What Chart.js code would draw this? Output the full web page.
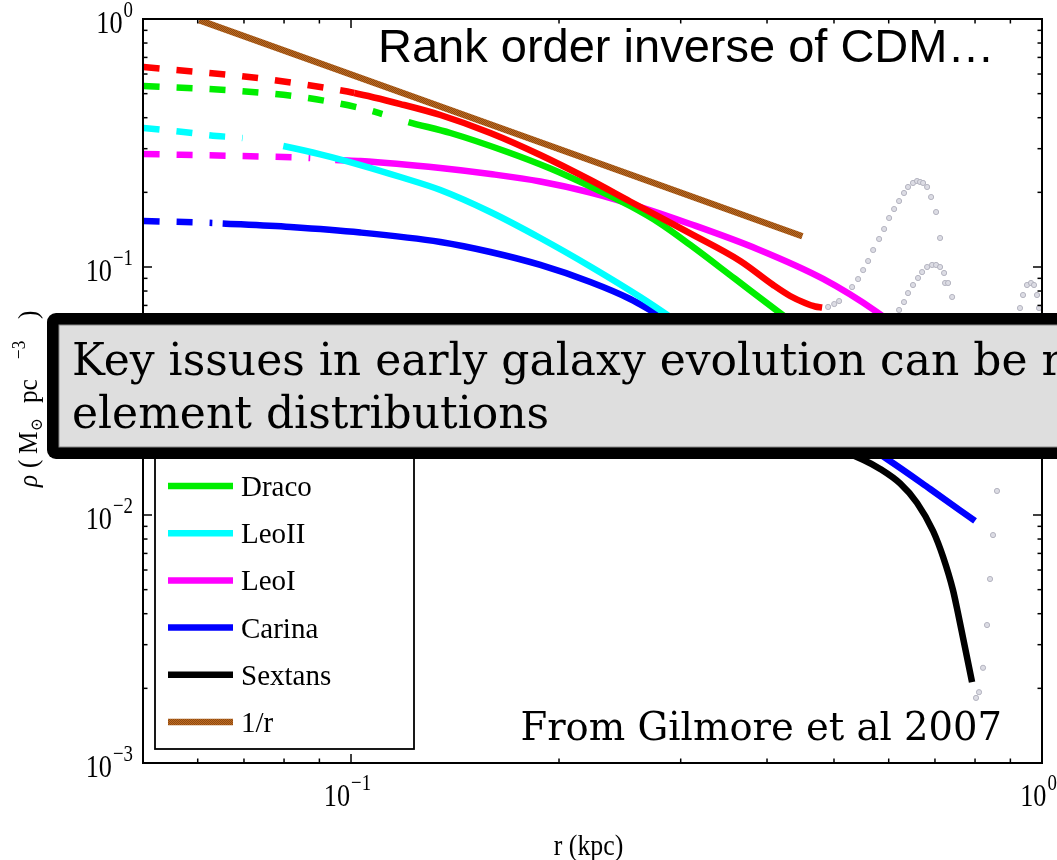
<!DOCTYPE html>
<html>
<head>
<meta charset="utf-8">
<title>dSph density profiles</title>
<script src="https://cdn.jsdelivr.net/npm/chart.js"></script>
<style>
  html, body { margin: 0; padding: 0; background: #fff; }
  canvas { display: block; }
</style>
</head>
<body>
<canvas id="densityChart" width="1057" height="860"></canvas>
<script>
// r in kpc, rho in Msun pc^-3
const umiR   = [0.0501, 0.0557, 0.0692, 0.0865, 0.1011, 0.1179, 0.1347, 0.1591, 0.1879, 0.2220, 0.2535, 0.3097, 0.3658, 0.4083, 0.4320, 0.4541, 0.4695, 0.4806];
const umiRho = [0.640, 0.623, 0.589, 0.542, 0.503, 0.4541, 0.4101, 0.3470, 0.2829, 0.2243, 0.1837, 0.1365, 0.1057, 0.0846, 0.0764, 0.0716, 0.0693, 0.0687];

const dracoR   = [0.0501, 0.0692, 0.0865, 0.1032, 0.1110, 0.1211, 0.1393, 0.1684, 0.1943, 0.2220, 0.2535, 0.2802, 0.3097, 0.3597, 0.4179, 0.5103];
const dracoRho = [0.537, 0.5125, 0.4803, 0.4376, 0.4139, 0.3843, 0.3470, 0.2909, 0.2495, 0.2111, 0.1762, 0.1498, 0.1227, 0.0895, 0.0652, 0.0430];

const leo2R   = [0.0501, 0.0572, 0.0639, 0.0697, 0.0798, 0.0903, 0.1032, 0.1179, 0.1347, 0.1591, 0.1879, 0.2220, 0.2622, 0.2897, 0.3201];
const leo2Rho = [0.3635, 0.3502, 0.3375, 0.3312, 0.3075, 0.2847, 0.2578, 0.2306, 0.2044, 0.1667, 0.1309, 0.1005, 0.0757, 0.0629, 0.0517];

const leo1R   = [0.0501, 0.0692, 0.0873, 0.0949, 0.1032, 0.1347, 0.1591, 0.1879, 0.2220, 0.2622, 0.3097, 0.3871, 0.4823, 0.5772, 0.6660];
const leo1Rho = [0.2855, 0.2803, 0.2751, 0.2701, 0.2676, 0.2507, 0.2371, 0.2212, 0.1997, 0.1745, 0.1491, 0.1182, 0.0895, 0.0658, 0.0485];

const carinaR   = [0.0501, 0.0630, 0.0652, 0.0817, 0.1032, 0.1347, 0.1591, 0.1879, 0.2220, 0.2535, 0.2897, 0.3201, 0.3782, 0.4467, 0.5987, 0.6888, 0.8000];
const carinaRho = [0.1533, 0.1505, 0.1498, 0.1449, 0.1377, 0.1261, 0.1149, 0.1019, 0.0870, 0.0743, 0.0600, 0.0503, 0.0377, 0.0280, 0.0167, 0.01273, 0.00946];

const sextansR   = [0.0501, 0.1011, 0.1879, 0.3201, 0.4467, 0.5510, 0.5832, 0.6232, 0.6595, 0.6956, 0.7193, 0.7433, 0.7557, 0.7688, 0.7921];
const sextansRho = [0.0485, 0.0434, 0.0357, 0.0265, 0.0210, 0.0167, 0.01533, 0.01340, 0.01118, 0.00862, 0.00677, 0.00498, 0.00403, 0.00319, 0.00212];

const invR   = [0.0603, 0.45];
const invRho = [0.99, 0.133];

// where the dashed inner part stops and the solid part starts
const umiCut     = [0.1011, 0.1011];
const dracoCut   = [0.1110, 0.1211];
const leo2Cut    = [0.0697, 0.0798];
const leo1Cut    = [0.0873, 0.0949];
const carinaCut  = [0.0630, 0.0652];
const sextansCut = [0.0501, 0.0501];

// faint grey dotted tracks
const dotR = [0.4903, 0.5004, 0.5086, 0.5311, 0.5418, 0.5510, 0.5602, 0.5697, 0.5811, 0.5909, 0.6008, 0.6109, 0.6211, 0.6314, 0.6399, 0.6506, 0.6594, 0.6661, 0.6728, 0.6819, 0.6910, 0.7026, 0.7120,
              0.6211, 0.6314, 0.6399, 0.6506, 0.6616, 0.6706, 0.6819, 0.6933, 0.7026, 0.7120, 0.7216, 0.7240, 0.7313, 0.7412,
              0.9293, 0.9387, 0.9512, 0.9640, 0.9737, 0.9835, 0.9901,
              0.8607, 0.8494, 0.8410, 0.8326, 0.8216, 0.8107, 0.8026];
const dotRho = [0.0690, 0.0709, 0.0729, 0.0830, 0.0894, 0.0972, 0.1057, 0.1171, 0.1297, 0.1423, 0.1576, 0.1713, 0.1845, 0.1988, 0.2102, 0.2182, 0.2222, 0.2202, 0.2182, 0.2102, 0.1915, 0.1666, 0.1309,
                0.0671, 0.0722, 0.0785, 0.0846, 0.0903, 0.0954, 0.1000, 0.1019, 0.1019, 0.1000, 0.0946, 0.0862, 0.0862, 0.0757,
                0.0683, 0.0771, 0.0846, 0.0862, 0.0846, 0.0771, 0.0683,
                0.0125, 0.00830, 0.00552, 0.00360, 0.00242, 0.00193, 0.00183];

const xMajor = [0.1, 1];
const xMajorExp = ['\u22121', '0'];
const xMinor = [0.06, 0.07, 0.08, 0.09, 0.2, 0.3, 0.4, 0.5, 0.6, 0.7, 0.8, 0.9];
const yMajor = [0.001, 0.01, 0.1, 1];
const yMajorExp = ['\u22123', '\u22122', '\u22121', '0'];
const yMinor = [2, 3, 4, 5, 6, 7, 8, 9].flatMap(m => [0.001, 0.01, 0.1].map(d => m * d));

const canvas = document.getElementById('densityChart');
const ctx = canvas.getContext('2d');

function brownPattern() {
  const c = document.createElement('canvas');
  c.width = 2; c.height = 2;
  const g = c.getContext('2d');
  g.fillStyle = '#c06a1e'; g.fillRect(0, 0, 2, 2);
  g.fillStyle = '#8c4a14'; g.fillRect(0, 0, 1, 1); g.fillRect(1, 1, 1, 1);
  return ctx.createPattern(c, 'repeat');
}

function pts(rs, rhos) {
  return rs.map((r, i) => ({ x: r, y: rhos[i] }));
}

function profile(label, color, rs, rhos, cut) {
  return {
    label: label,
    data: pts(rs, rhos),
    borderColor: color,
    borderWidth: 6.5,
    borderCapStyle: 'butt',
    pointRadius: 0,
    cubicInterpolationMode: 'monotone',
    segment: {
      borderDash: c => (c.p1.parsed.x <= cut[0] + 1e-9 ? [16, 17] : undefined),
      borderColor: c => (cut[1] > cut[0] && c.p0.parsed.x >= cut[0] - 1e-9 && c.p1.parsed.x <= cut[1] + 1e-9 ? 'rgba(0,0,0,0)' : undefined)
    }
  };
}

const datasets = [
  profile('1/r', brownPattern(), invR, invRho, [0, 0]),
  profile('UMi', '#ff0000', umiR, umiRho, umiCut),
  profile('Draco', '#00ee00', dracoR, dracoRho, dracoCut),
  profile('LeoII', '#00ffff', leo2R, leo2Rho, leo2Cut),
  profile('LeoI', '#ff00ff', leo1R, leo1Rho, leo1Cut),
  profile('Carina', '#0000ff', carinaR, carinaRho, carinaCut),
  profile('Sextans', '#000000', sextansR, sextansRho, sextansCut),
  {
    label: 'dots',
    data: pts(dotR, dotRho),
    showLine: false,
    pointRadius: 2.6,
    pointBackgroundColor: '#dcdce4',
    pointBorderColor: '#b4b4c0',
    pointBorderWidth: 1
  }
];
const legendOrder = ['Draco', 'LeoII', 'LeoI', 'Carina', 'Sextans', '1/r'];

// narrow TeX-like text: draw with a horizontal squeeze
function squeezed(ctx, text, x, y, font, sx) {
  ctx.save();
  ctx.font = font;
  ctx.translate(x, y);
  ctx.scale(sx, 1);
  ctx.fillText(text, 0, 0);
  const w = ctx.measureText(text).width * sx;
  ctx.restore();
  return w;
}
function widthOf(ctx, text, font, sx) {
  ctx.save(); ctx.font = font;
  const w = ctx.measureText(text).width * sx;
  ctx.restore();
  return w;
}

const overlay = {
  id: 'overlay',
  afterDraw(chart) {
    const { ctx, chartArea: a, scales: { x, y } } = chart;
    ctx.save();

    // frame with inward ticks
    ctx.strokeStyle = '#000';
    ctx.lineWidth = 2;
    ctx.strokeRect(a.left, a.top, a.right - a.left, a.bottom - a.top);
    ctx.lineWidth = 1.5;
    const seg = (x1, y1, x2, y2) => { ctx.beginPath(); ctx.moveTo(x1, y1); ctx.lineTo(x2, y2); ctx.stroke(); };
    xMajor.forEach(v => { const p = x.getPixelForValue(v); seg(p, a.bottom, p, a.bottom - 9); seg(p, a.top, p, a.top + 9); });
    xMinor.forEach(v => { const p = x.getPixelForValue(v); seg(p, a.bottom, p, a.bottom - 4.5); seg(p, a.top, p, a.top + 4.5); });
    yMajor.forEach(v => { const p = y.getPixelForValue(v); seg(a.left, p, a.left + 9, p); seg(a.right, p, a.right - 9, p); });
    yMinor.forEach(v => { const p = y.getPixelForValue(v); seg(a.left, p, a.left + 4.5, p); seg(a.right, p, a.right - 4.5, p); });

    // tick labels 10^n
    const big = '32px "Liberation Serif"', sup = '23px "Liberation Serif"', sq = 0.82;
    ctx.fillStyle = '#000';
    ctx.textBaseline = 'alphabetic';
    ctx.textAlign = 'left';
    yMajor.forEach((v, i) => {
      const p = y.getPixelForValue(v);
      const w1 = widthOf(ctx, '10', big, sq), w2 = widthOf(ctx, yMajorExp[i], sup, sq);
      const x0 = a.left - 11 - w1 - w2;
      squeezed(ctx, '10', x0, p + 14, big, sq);
      squeezed(ctx, yMajorExp[i], x0 + w1 + 1, p - 2, sup, sq);
    });
    xMajor.forEach((v, i) => {
      const p = x.getPixelForValue(v);
      const w1 = widthOf(ctx, '10', big, sq), w2 = widthOf(ctx, xMajorExp[i], sup, sq);
      const x0 = p - 4 - (w1 + w2) / 2;
      squeezed(ctx, '10', x0, a.bottom + 43, big, sq);
      squeezed(ctx, xMajorExp[i], x0 + w1 + 1, a.bottom + 27, sup, sq);
    });

    // axis titles
    const tf = '30px "Liberation Serif"';
    const tw = widthOf(ctx, 'r (kpc)', tf, 0.86);
    squeezed(ctx, 'r (kpc)', (a.left + a.right) / 2 - 4 - tw / 2, a.bottom + 92, tf, 0.86);

    const parts = [
      ['italic 28px "Liberation Serif"', '\u03c1', 0, 0],
      ['28px "Liberation Serif"', '(', 19, 0],
      ['28px "Liberation Serif"', 'M', 33, 0],
      ['17px "DejaVu Serif"', '\u2299', 56, 5],
      ['28px "Liberation Serif"', 'pc', 84, 0],
      ['19px "Liberation Serif"', '\u22123', 128, -12],
      ['28px "Liberation Serif"', ')', 168, 0]
    ];
    ctx.save();
    ctx.translate(37, 487);
    ctx.rotate(-Math.PI / 2);
    ctx.textAlign = 'left';
    parts.forEach(pt => { squeezed(ctx, pt[1], pt[2], pt[3], pt[0], 0.9); });
    ctx.restore();

    // legend
    ctx.fillStyle = '#fff';
    ctx.fillRect(155, 430, 259, 319);
    ctx.strokeStyle = '#000';
    ctx.lineWidth = 1.8;
    ctx.strokeRect(155, 430, 259, 319);
    ctx.font = '29px "Liberation Serif"';
    ctx.textAlign = 'left';
    legendOrder.forEach((name, i) => {
      const ds = chart.data.datasets.find(d => d.label === name);
      const cy = 486 + i * 47.2;
      ctx.strokeStyle = ds.borderColor;
      ctx.lineWidth = 6.5;
      ctx.setLineDash([]);
      seg(168, cy, 233, cy);
      ctx.fillStyle = '#000';
      ctx.fillText(name, 241, cy + 10);
    });

    // annotations
    ctx.font = '47px "Liberation Sans"';
    ctx.fillText('Rank order inverse of CDM\u2026', 378, 62);
    ctx.font = '38.5px "DejaVu Serif"';
    ctx.textAlign = 'right';
    ctx.fillText('From Gilmore et al 2007', 1002, 740);

    // callout box
    ctx.textAlign = 'left';
    ctx.fillStyle = '#000';
    ctx.beginPath(); ctx.roundRect(47, 313, 1100, 146, 9); ctx.fill();
    ctx.fillStyle = '#dedede';
    ctx.fillRect(59, 325, 1100, 122);
    ctx.strokeStyle = '#888';
    ctx.lineWidth = 1;
    ctx.strokeRect(59, 325, 1100, 122);
    ctx.fillStyle = '#000';
    ctx.font = '44px "DejaVu Serif"';
    ctx.fillText('Key issues in early galaxy evolution can be r', 72, 375);
    ctx.fillText('element distributions', 72, 428);
    ctx.restore();
  }
};

new Chart(ctx, {
  type: 'line',
  data: { datasets: datasets },
  options: {
    responsive: false,
    animation: false,
    layout: { padding: { left: 143, right: 15, top: 19, bottom: 97 } },
    plugins: { legend: { display: false }, tooltip: { enabled: false } },
    scales: {
      x: {
        type: 'logarithmic', min: 0.05, max: 1,
        ticks: { display: false }, grid: { display: false }, border: { display: false },
        afterFit: s => { s.height = 0; }
      },
      y: {
        type: 'logarithmic', min: 0.001, max: 1,
        ticks: { display: false }, grid: { display: false }, border: { display: false },
        afterFit: s => { s.width = 0; }
      }
    }
  },
  plugins: [overlay]
});
</script>
</body>
</html>
